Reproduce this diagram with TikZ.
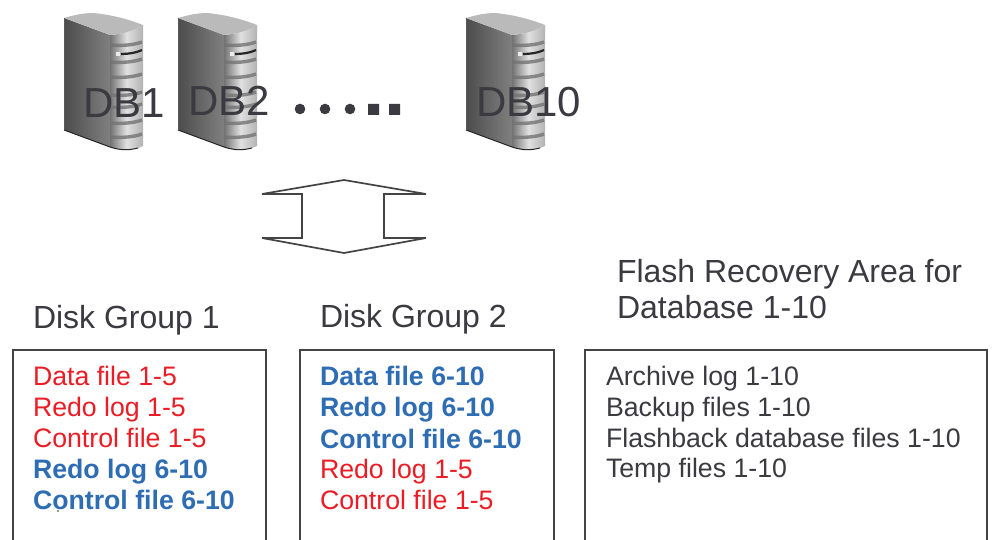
\documentclass[tikz,border=0pt]{standalone}
\usepackage{fontspec}
\setmainfont{Liberation Sans}
\definecolor{ink}{HTML}{3A3A40}
\definecolor{redtxt}{HTML}{ED1C24}
\definecolor{bluetxt}{HTML}{2E6DB4}
\definecolor{boxline}{HTML}{444444}
\tikzset{
  every node/.style={inner sep=0pt,outer sep=0pt,anchor=base west},
  dbname/.style={font=\fontsize{42}{42}\selectfont,text=ink},
  head/.style={font=\fontsize{32}{32}\selectfont,text=ink},
  redline/.style={font=\fontsize{26.7}{26.7}\selectfont,text=redtxt},
  blueline/.style={font=\fontsize{26.7}{26.7}\selectfont\bfseries,text=bluetxt},
  greyline/.style={font=\fontsize{26.7}{26.7}\selectfont,text=ink},
  panel/.style={draw=boxline,line width=1.6pt},
  server/.pic={
    % side face
    \shade[left color=black!70,right color=black!50]
      (0,0) -- (46,17) -- (46,129) -- (0,112) -- cycle;
    % front face
    \shade[left color=black!55,right color=black!30,middle color=black!12]
      (46,17) .. controls (60,16) and (72,12) .. (79,7) -- (79,128)
      .. controls (72,132) and (58,133) .. (46,129) -- cycle;
    % top face
    \fill[black!27] (0,0) .. controls (10,-3) and (20,-5) .. (29,-5)
      .. controls (50,-3) and (66,2) .. (79,7)
      .. controls (72,12) and (60,16) .. (46,17) -- cycle;
    \draw[black!85,line width=1pt] (0,112) -- (46,129) .. controls (58,133) and (66,132) .. (74,130);
    \draw[black!65,line width=.8pt] (0,0) -- (0,112);
    % slots on the front face
    \foreach \yy in {27,44,59,77,89,105,119}
      \draw[black!55,line width=3.4pt,opacity=.8] (46,\yy) .. controls (58,\yy+1) and (70,\yy) .. (78,\yy-3);
    \draw[black!85,line width=2.2pt] (57,36) .. controls (64,36) and (72,35) .. (78,32);
    \fill[black!8] (52,34) rectangle (56,38);
  }
}
\begin{document}
\begin{tikzpicture}[x=1pt,y=-1pt]
\useasboundingbox (0,0) rectangle (992,540);
\fill[white] (0,0) rectangle (992,540);

\pic at (64,18) {server};
\pic at (178,18) {server};
\pic at (466,18) {server};

\node[dbname] (db1) at (83,118) {DB1};
\node[dbname] (db2) at (188,116) {DB2};
\node[dbname] (db10) at (476,117) {DB10};

\fill[ink] (300,109) circle (5.3) (325,109) circle (5.3) (350,109) circle (5.3);
\fill[ink] (368,104) rectangle (379,115) (389,104) rectangle (400,115);

\draw[boxline,line width=1.7pt,line join=miter,fill=white]
  (262,194) -- (344,180) -- (426,194) -- (384,194) -- (384,238) -- (426,238)
  -- (344,253) -- (262,238) -- (302,238) -- (302,194) -- cycle;

\node[head] (h1) at (33,328) {Disk Group 1};
\node[head] (h2) at (320,327) {Disk Group 2};
\node[head] (h3a) at (617,282) {Flash Recovery Area for};
\node[head] (h3b) at (617,318) {Database 1-10};

\draw[panel] (13,542) -- (13,350) -- (266,350) -- (266,542);
\draw[panel] (300,542) -- (300,350) -- (554,350) -- (554,542);
\draw[panel] (585,542) -- (585,350) -- (987,350) -- (987,542);

\node[redline] (a1) at (33,385) {Data file 1-5};
\node[redline] (a2) at (33,416) {Redo log 1-5};
\node[redline] (a3) at (33,447) {Control file 1-5};
\node[blueline] (a4) at (33,478) {Redo log 6-10};
\node[blueline] (a5) at (33,509) {Control file 6-10};
\fill[black!80] (58,511) circle (.9);

\node[blueline] (b1) at (320,385) {Data file 6-10};
\node[blueline] (b2) at (320,416) {Redo log 6-10};
\node[blueline] (b3) at (320,448) {Control file 6-10};
\node[redline] (b4) at (320,478) {Redo log 1-5};
\node[redline] (b5) at (320,509) {Control file 1-5};

\node[greyline] (c1) at (606,385) {Archive log 1-10};
\node[greyline] (c2) at (606,416) {Backup files 1-10};
\node[greyline] (c3) at (606,447) {Flashback database files 1-10};
\node[greyline] (c4) at (606,477) {Temp files 1-10};
\end{tikzpicture}
\end{document}
